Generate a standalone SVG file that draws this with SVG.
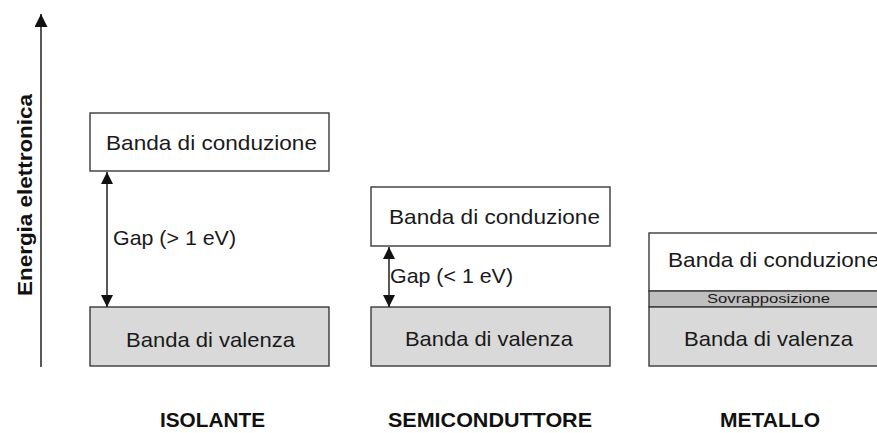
<svg xmlns="http://www.w3.org/2000/svg" width="877" height="433" viewBox="0 0 877 433">
<defs>
<style>
.box{stroke:#3a3a3a;stroke-width:1.4}
.cb{fill:#ffffff}
.vb{fill:#d9d9d9}
.ov{fill:#bfbfbf}
.t{font-family:"Liberation Sans",Arial,sans-serif;font-size:21px;fill:#1a1a1a}
.s{font-family:"Liberation Sans",Arial,sans-serif;font-size:12px;fill:#1a1a1a}
.b{font-family:"Liberation Sans",Arial,sans-serif;font-size:20px;font-weight:bold;fill:#111}
.ax{font-family:"Liberation Sans",Arial,sans-serif;font-size:21px;font-weight:bold;fill:#111}
.ln{stroke:#111;stroke-width:1.4;fill:none}
</style>
<marker id="ah" markerUnits="userSpaceOnUse" markerWidth="12" markerHeight="12" viewBox="0 0 12 12" refX="12" refY="6" orient="auto-start-reverse">
<path d="M0,0 L12,6 L0,12 z" fill="#111"/>
</marker>
<marker id="ax" markerUnits="userSpaceOnUse" markerWidth="13" markerHeight="13" viewBox="0 0 13 13" refX="13" refY="6.5" orient="auto">
<path d="M0,0 L13,6.5 L0,13 z" fill="#111"/>
</marker>
</defs>

<g id="axis">
<text class="ax" transform="translate(32,296) rotate(-90)" textLength="202" lengthAdjust="spacingAndGlyphs">Energia elettronica</text>
</g>

<g id="isolante-conduzione">
<rect class="box cb" x="90" y="113" width="239" height="58"/>
<text class="t" x="106" y="150" textLength="211" lengthAdjust="spacingAndGlyphs">Banda di conduzione</text>
</g>
<g id="isolante-valenza">
<rect class="box vb" x="90" y="307" width="239" height="59"/>
<text class="t" x="126" y="347" textLength="169" lengthAdjust="spacingAndGlyphs">Banda di valenza</text>
</g>
<g id="isolante-gap">
<text class="t" x="113" y="245" textLength="123" lengthAdjust="spacingAndGlyphs">Gap (&gt; 1 eV)</text>
</g>
<g id="isolante-label">
<text class="b" x="160" y="427" textLength="105" lengthAdjust="spacingAndGlyphs">ISOLANTE</text>
</g>

<g id="semi-conduzione">
<rect class="box cb" x="371" y="187" width="239" height="59"/>
<text class="t" x="389" y="224" textLength="211" lengthAdjust="spacingAndGlyphs">Banda di conduzione</text>
</g>
<g id="semi-valenza">
<rect class="box vb" x="371" y="307" width="239" height="59"/>
<text class="t" x="405" y="346" textLength="168" lengthAdjust="spacingAndGlyphs">Banda di valenza</text>
</g>
<g id="semi-gap">
<text class="t" x="390" y="283" textLength="123" lengthAdjust="spacingAndGlyphs">Gap (&lt; 1 eV)</text>
</g>
<g id="semi-label">
<text class="b" x="388" y="427" textLength="204" lengthAdjust="spacingAndGlyphs">SEMICONDUTTORE</text>
</g>

<g id="metallo-bande">
<rect class="box cb" x="649" y="233" width="240" height="58"/>
<rect class="box ov" x="649" y="291" width="240" height="16"/>
<rect class="box vb" x="649" y="307" width="240" height="59"/>
<text class="t" x="668" y="267" textLength="211" lengthAdjust="spacingAndGlyphs">Banda di conduzione</text>
<text class="s" x="707" y="303" textLength="123" lengthAdjust="spacingAndGlyphs">Sovrapposizione</text>
<text class="t" x="684" y="346" textLength="169" lengthAdjust="spacingAndGlyphs">Banda di valenza</text>
</g>
<g id="metallo-label">
<text class="b" x="720" y="427" textLength="100" lengthAdjust="spacingAndGlyphs">METALLO</text>
</g>

<g id="connectors">
<line class="ln" x1="41" y1="367" x2="41" y2="14" marker-end="url(#ax)"/>
<line class="ln" x1="107" y1="172" x2="107" y2="307" marker-start="url(#ah)" marker-end="url(#ah)"/>
<line class="ln" x1="389" y1="247" x2="389" y2="307" marker-start="url(#ah)" marker-end="url(#ah)"/>
</g>
</svg>
